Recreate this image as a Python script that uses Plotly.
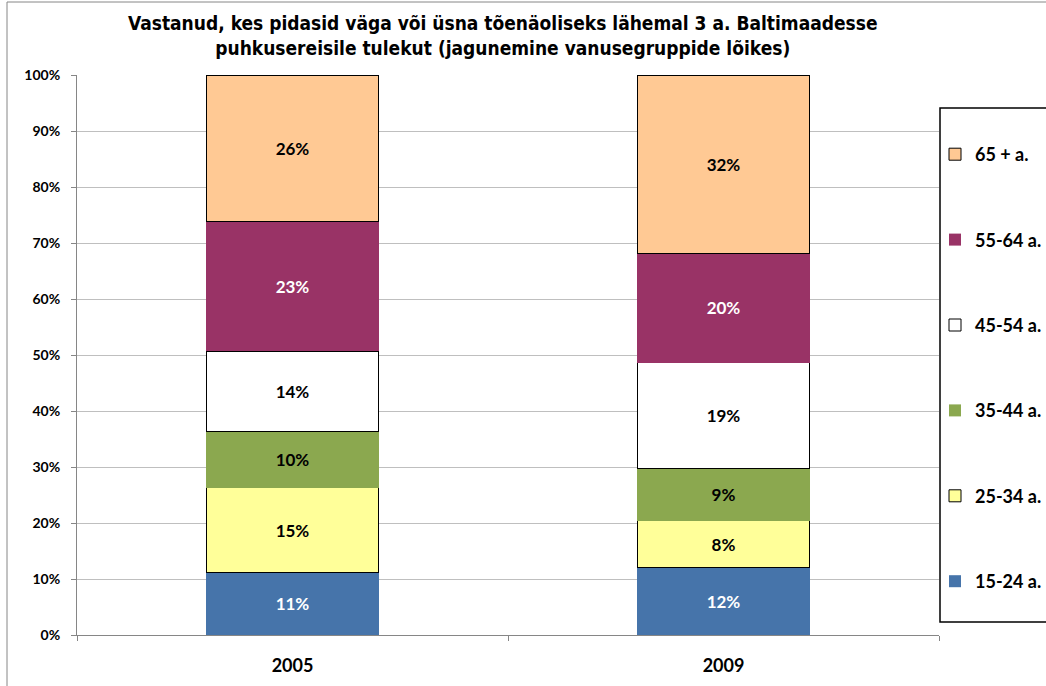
import plotly.graph_objects as go

years = ["2005", "2009"]
groups = ["15-24 a.", "25-34 a.", "35-44 a.", "45-54 a.", "55-64 a.", "65 + a."]
v_15_24 = [0.111, 0.120]
v_25_34 = [0.152, 0.084]
v_35_44 = [0.100, 0.094]
v_45_54 = [0.144, 0.188]
v_55_64 = [0.231, 0.196]
v_65 = [0.262, 0.318]
series = [v_15_24, v_25_34, v_35_44, v_45_54, v_55_64, v_65]
y_ticks = [0, 0.1, 0.2, 0.3, 0.4, 0.5, 0.6, 0.7, 0.8, 0.9, 1.0]
title = "Vastanud, kes pidasid väga või üsna tõenäoliseks lähemal 3 a. Baltimaadesse<br>puhkusereisile tulekut (jagunemine vanusegruppide lõikes)"

fills = ["#4674AA", "#FFFF99", "#8BA84F", "#FFFFFF", "#993366", "#FFC994"]
outline = [0, 1, 0, 1, 0, 1]
txtcol = ["white", "black", "black", "black", "white", "black"]

FONT = "Lato, Open Sans, sans-serif"

fig = go.Figure()
n = len(groups)
for i, (name, vals) in enumerate(zip(groups, series)):
    fig.add_trace(go.Bar(
        x=years, y=vals, name=name, legendgroup=f"g{i}", legendrank=100 * (n - i),
        marker=dict(color=fills[i], line=dict(color="#000000", width=outline[i])),
        texttemplate="%{y:.0%}", textposition="inside", insidetextanchor="middle",
        textangle=0, constraintext="none",
        textfont=dict(family=FONT, size=17, color=txtcol[i], weight="bold"),
        hoverinfo="skip",
    ))

fig.update_layout(
    width=1046, height=686,
    barmode="stack", bargap=0.6,
    paper_bgcolor="white", plot_bgcolor="white",
    margin=dict(l=77, r=107, t=75, b=51, autoexpand=False),
    showlegend=True,
    legend=dict(
        x=(935 - 77) / 862, xanchor="left", y=(635 - 136) / 560, yanchor="top",
        traceorder="grouped", tracegroupgap=59,
        font=dict(family=FONT, size=18, color="black", weight="bold"),
        bgcolor="rgba(0,0,0,0)", borderwidth=0,
    ),
    xaxis=dict(
        type="category", showgrid=False, showline=True, linecolor="#868686", linewidth=1,
        ticks="outside", tickson="boundaries", ticklen=5, tickcolor="#868686",
        ticklabelstandoff=14,
        tickfont=dict(family=FONT, size=18, color="black", weight="bold"),
    ),
    yaxis=dict(
        range=[0, 1], tickvals=y_ticks, tickformat=".0%",
        showgrid=True, gridcolor="#BFBFBF", gridwidth=1,
        showline=True, linecolor="#868686", linewidth=1,
        ticks="outside", ticklen=5, tickcolor="#868686", ticklabelstandoff=8,
        tickfont=dict(family=FONT, size=14, color="black", weight="bold"),
        zeroline=False,
    ),
    annotations=[dict(
        text=title, x=(503 - 77) / 862, xref="paper", y=(635 - 35) / 560, yref="paper",
        xanchor="center", yanchor="middle", showarrow=False,
        font=dict(family="Liberation Sans Narrow, Arial Narrow, DejaVu Sans Condensed, sans-serif", size=19, color="black", weight="bold"),
    )],
)

fig.add_shape(type="rect", xref="paper", yref="paper",
              x0=(940 - 77) / 862, x1=(1060 - 77) / 862,
              y0=(635 - 622) / 560, y1=(635 - 108) / 560,
              line=dict(color="black", width=1.5), fillcolor="rgba(0,0,0,0)", layer="above")
fig.add_shape(type="rect", xref="paper", yref="paper",
              x0=(7 - 77) / 862, x1=(1080 - 77) / 862,
              y0=(635 - 700) / 560, y1=(635 - 2) / 560,
              line=dict(color="#868686", width=1), fillcolor="rgba(0,0,0,0)", layer="below")

fig.write_html("out.html", config={"displayModeBar": False},
               post_script="document.body.style.margin='0px';document.body.style.padding='0px';")
